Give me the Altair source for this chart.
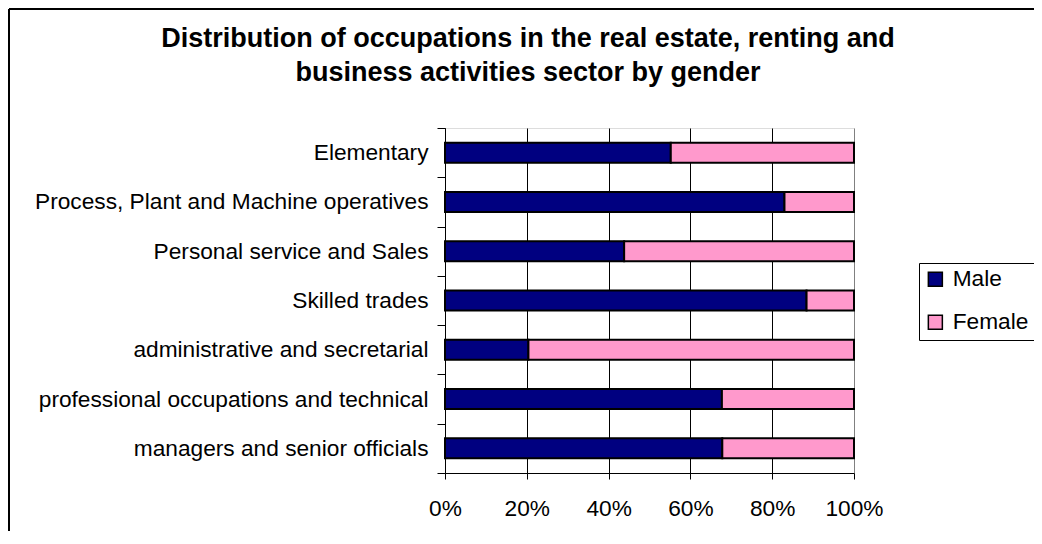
import altair as alt
import pandas as pd

categories = [
    "Elementary ",
    "Process, Plant and Machine operatives",
    "Personal service and Sales",
    "Skilled trades",
    "administrative and secretarial",
    "professional occupations and technical ",
    "managers and senior officials",
]
male = [55.2, 83.0, 43.8, 88.4, 20.4, 67.7, 67.8]
female = [44.8, 17.0, 56.2, 11.6, 79.6, 32.3, 32.2]
series = ["Male", "Female"]
colors = ["#000080", "#FF99CC"]
x_ticks = [0, 0.2, 0.4, 0.6, 0.8, 1.0]
title_lines = [
    "Distribution of occupations in the real estate, renting and",
    "business activities sector by gender",
]

rows = []
for c, m, f in zip(categories, male, female):
    rows.append({"category": c, "gender": "Male", "value": m, "order": 0})
    rows.append({"category": c, "gender": "Female", "value": f, "order": 1})
df = pd.DataFrame(rows)

FONT = "Liberation Sans"
LABEL_SIZE = 22.7

bars = alt.Chart(df).mark_bar(size=20, stroke="black", strokeWidth=2).encode(
    y=alt.Y(
        "category:N",
        sort=categories,
        scale=alt.Scale(paddingInner=0, paddingOuter=0),
        axis=alt.Axis(
            title=None,
            tickBand="extent",
            tickSize=8,
            tickColor="black",
            domainColor="black",
            labelPadding=9,
            labelFontSize=LABEL_SIZE,
            labelFont=FONT,
            labelColor="black",
            labelLimit=500,
            grid=False,
        ),
    ),
    x=alt.X(
        "value:Q",
        stack="normalize",
        scale=alt.Scale(domain=[0, 1], nice=False),
        axis=alt.Axis(
            title=None,
            format="%",
            values=x_ticks,
            tickSize=6,
            tickColor="black",
            domainColor="black",
            labelPadding=18,
            labelFontSize=LABEL_SIZE,
            labelFont=FONT,
            labelColor="black",
            labelFlush=False,
            labelOverlap=False,
            grid=True,
            gridColor=alt.condition("datum.value >= 1", alt.value("#808080"), alt.value("#000000")),
            gridOpacity=1,
            gridWidth=1,
        ),
    ),
    color=alt.Color(
        "gender:N",
        scale=alt.Scale(domain=series, range=colors),
        sort=series,
        legend=alt.Legend(
            title=None,
            orient="none",
            legendX=474,
            legendY=135,
            padding=5,
            strokeColor="black",
            fillColor="white",
            symbolType="square",
            symbolSize=196,
            symbolStrokeColor="black",
            symbolStrokeWidth=1.5,
            symbolOpacity=1,
            labelFontSize=LABEL_SIZE,
            labelFont=FONT,
            labelColor="black",
            rowPadding=19,
            labelOffset=6,
        ),
    ),
    order=alt.Order("order:Q"),
)

one = alt.Data(values=[{"k": 1}])
border_left = alt.Chart(one).mark_rule(color="black", strokeWidth=2).encode(
    x=alt.value(-436), y=alt.value(-119), y2=alt.value(410)
)
border_top = alt.Chart(one).mark_rule(color="black", strokeWidth=2).encode(
    x=alt.value(-436), x2=alt.value(600), y=alt.value(-119)
)

title1 = alt.Chart(one).mark_text(
    font=FONT, fontSize=27, fontWeight="bold", color="black", align="center", baseline="alphabetic"
).encode(x=alt.value(83), y=alt.value(-81), text=alt.value(title_lines[0]))
title2 = alt.Chart(one).mark_text(
    font=FONT, fontSize=27, fontWeight="bold", color="black", align="center", baseline="alphabetic"
).encode(x=alt.value(83), y=alt.value(-47), text=alt.value(title_lines[1]))

chart = (
    alt.layer(bars, border_left, border_top, title1, title2)
    .properties(
        width=409,
        height=345,
        autosize="none",
        padding={"left": 437, "top": 120, "right": 180, "bottom": 58},
    )
    .configure_view(fill="#CCFFFF", stroke="transparent")
    .configure(background="white")
)

chart.save("out.html", embed_options={"renderer": "svg", "actions": False})
